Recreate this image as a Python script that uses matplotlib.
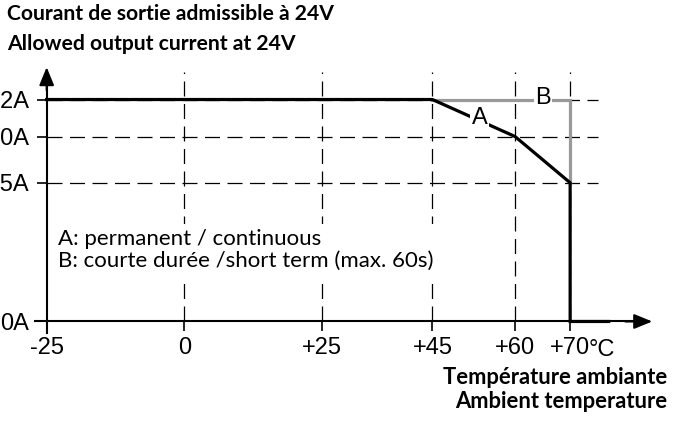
import matplotlib
matplotlib.use("Agg")
import matplotlib.pyplot as plt

# data
temp_a = [-25, 45, 60, 70, 70, 77]
curr_a = [12, 12, 10, 7.5, 0, 0]
temp_b = [45, 70, 70]
curr_b = [12, 12, 7.5]
x_ticks = [-25, 0, 25, 45, 60, 70]
x_labels = ["-25", "0", "+25", "+45", "+60", "+70"]
y_ticks = [0, 7.5, 10, 12]
y_labels = ["0A", "7.5A", "10A", "12A"]
grid_x = [0, 25, 45, 60, 70]
grid_y = [7.5, 10, 12]

fig = plt.figure(figsize=(6.82, 4.21), dpi=100)
ax = fig.add_axes([0, 0, 1, 1])
ax.set_xlim(-33.47, 90.3)
ax.set_ylim(-5.38, 17.38)
ax.patch.set_alpha(0)

dash = dict(color="black", lw=0.9, linestyle=(0, (12, 6)), zorder=1)
for gx in grid_x:
    ax.plot([gx, gx], [0, 13.5], **dash)
for gy in grid_y:
    ax.plot([-25, 75], [gy, gy], **dash)

ax.plot(temp_b, curr_b, color="#999999", lw=2.3, solid_joinstyle="miter", zorder=2)
ax.plot(temp_a, curr_a, color="black", lw=2.3, solid_joinstyle="miter", zorder=3)

# spines as arrows
for s in ["top", "right"]:
    ax.spines[s].set_visible(False)
ax.spines["left"].set_position(("data", -25))
ax.spines["bottom"].set_position(("data", 0))
ax.spines["left"].set_bounds(-0.6, 13.0)
ax.spines["bottom"].set_bounds(-27.1, 83)
ax.spines["left"].set_linewidth(1.5)
ax.spines["bottom"].set_linewidth(1.5)
ax.annotate("", xy=(-25, 13.75), xytext=(-25, 12.5),
            arrowprops=dict(arrowstyle="-|>,head_length=1.1,head_width=0.45",
                            color="black", lw=1.5, shrinkA=0, shrinkB=0))
ax.annotate("", xy=(84.9, 0), xytext=(80, 0),
            arrowprops=dict(arrowstyle="-|>,head_length=1.1,head_width=0.45",
                            color="black", lw=1.5, shrinkA=0, shrinkB=0))

ax.set_xticks(x_ticks)
ax.set_xticklabels(x_labels, fontfamily="Liberation Sans", fontsize=17)
ax.set_yticks(y_ticks)
ax.set_yticklabels(y_labels, fontfamily="Liberation Sans", fontsize=17)
ax.tick_params(axis="both", direction="out", length=7.5, width=1.2, color="black")
ax.tick_params(axis="x", pad=4)
ax.tick_params(axis="y", pad=5.3)
# degree sign after +70
ax.text(70 + 3.4, -0.92, "°C", fontfamily="Liberation Sans", fontsize=17,
        ha="left", va="top")

# curve labels
ax.text(53.6, 11.0, "A", fontfamily="Liberation Sans", fontsize=17,
        ha="center", va="center", zorder=4,
        bbox=dict(facecolor="white", edgecolor="none", pad=1))
ax.text(65.1, 12.1, "B", fontfamily="Liberation Sans", fontsize=17,
        ha="center", va="center", zorder=4,
        bbox=dict(facecolor="white", edgecolor="none", pad=1))

ax.text(-22.9, 3.85, "A: permanent / continuous\nB: courte durée /short term (max. 60s)",
        fontfamily="Lato", fontsize=16, ha="left", va="center", linespacing=1.1,
        zorder=4, bbox=dict(facecolor="white", edgecolor="none", pad=4))

fig.text(7 / 682, 1 - 14 / 421, "Courant de sortie admissible à 24V", fontfamily="Lato",
         fontweight="bold", fontsize=15.2, ha="left", va="center")
fig.text(7 / 682, 1 - 44 / 421, "Allowed output current at 24V", fontfamily="Lato",
         fontweight="bold", fontsize=15.2, ha="left", va="center")
fig.text(667 / 682, 1 - 377 / 421, "Température ambiante", fontfamily="Lato",
         fontweight="bold", fontsize=15.8, ha="right", va="center")
fig.text(667 / 682, 1 - 401 / 421, "Ambient temperature", fontfamily="Lato",
         fontweight="bold", fontsize=15.8, ha="right", va="center")

fig.savefig("out.png", dpi=100, facecolor="white")
